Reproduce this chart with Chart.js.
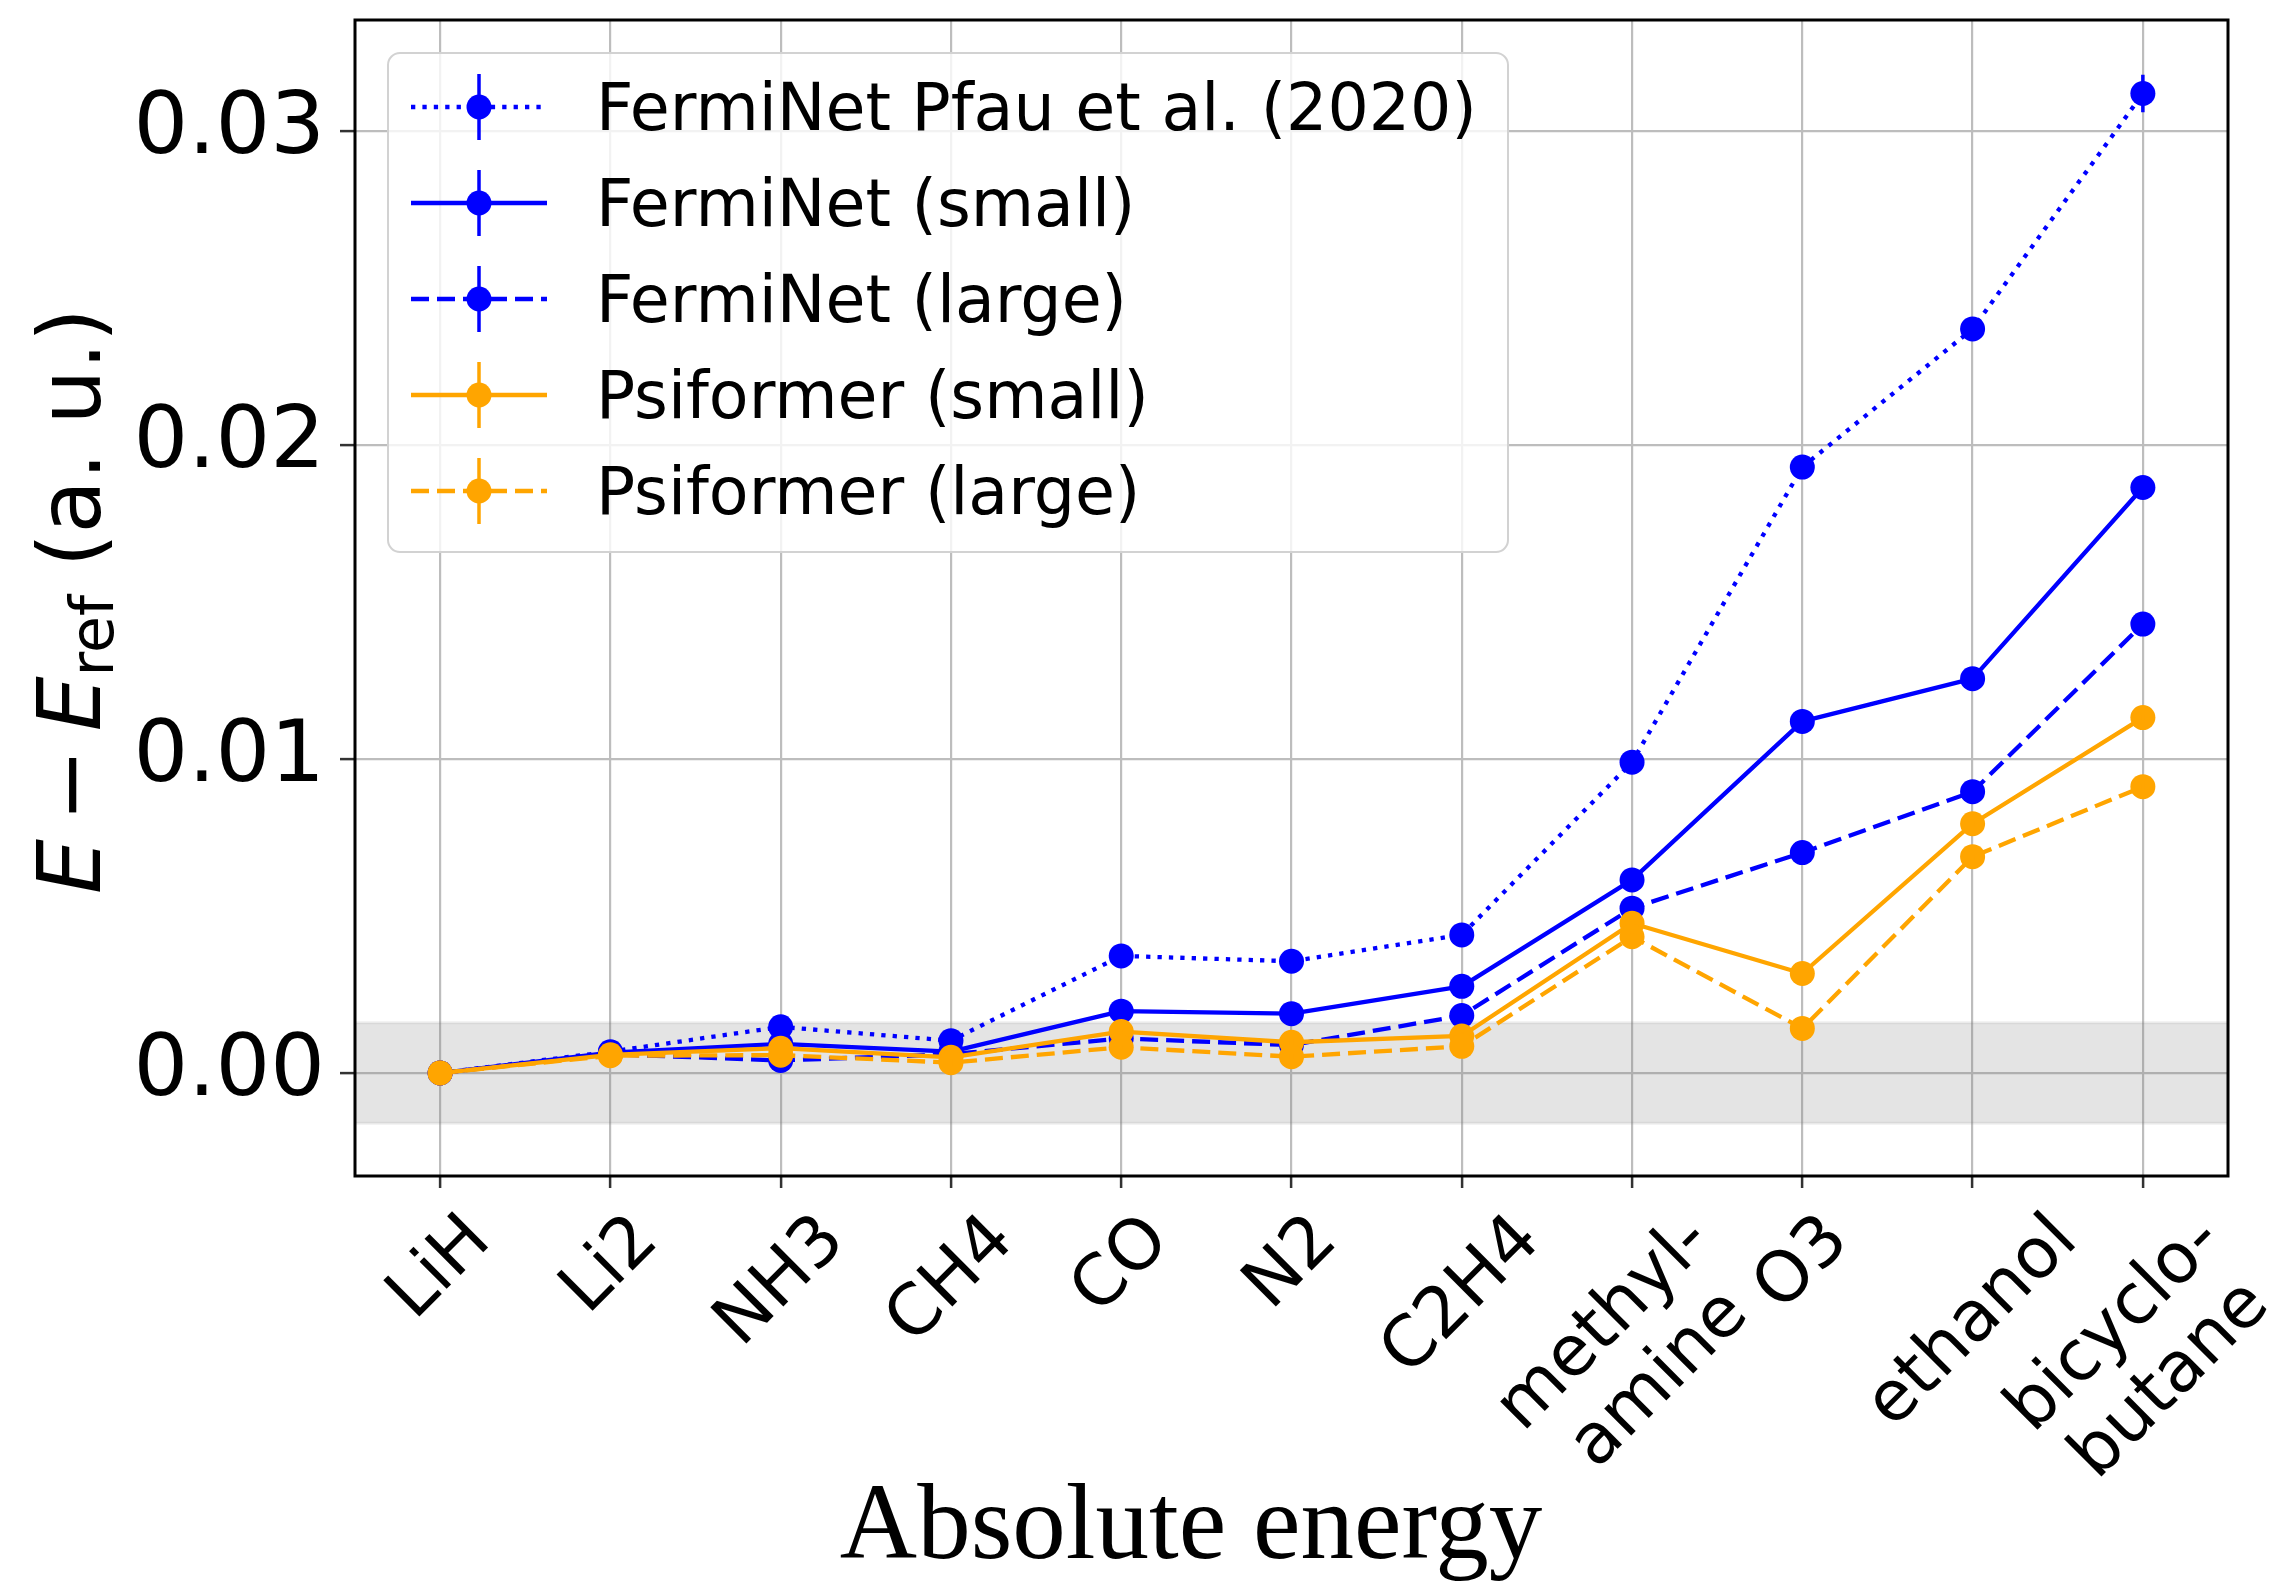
<!DOCTYPE html>
<html lang="en">
<head>
<meta charset="UTF-8">
<title>Absolute energy</title>
<script src="https://cdn.jsdelivr.net/npm/chart.js"></script>
<style>
  html, body { margin: 0; padding: 0; background: #fff; }
  #chart { display: block; }
</style>
</head>
<body>
<canvas id="chart" width="2284" height="1586"></canvas>
<script>
// molecules on the x axis (arrays = two-line labels)
const molecules = ['LiH', 'Li2', 'NH3', 'CH4', 'CO', 'N2', 'C2H4', ['methyl-', 'amine'], 'O3', 'ethanol', ['bicyclo-', 'butane']];

// E - E_ref in a.u.
const fermiNetPfau   = [0, 0.00068, 0.00147, 0.00103, 0.00373, 0.00356, 0.0044, 0.0099, 0.0193, 0.0237, 0.0312];
const fermiNetSmall  = [0, 0.00065, 0.00093, 0.00068, 0.00197, 0.00189, 0.00276, 0.00615, 0.0112, 0.01256, 0.01865];
const fermiNetLarge  = [0, 0.0006, 0.0004, 0.0006, 0.0011, 0.00089, 0.00183, 0.00525, 0.00702, 0.00896, 0.0143];
const psiformerSmall = [0, 0.00058, 0.00079, 0.0005, 0.00132, 0.00098, 0.00118, 0.00477, 0.00317, 0.00794, 0.01132];
const psiformerLarge = [0, 0.00055, 0.00057, 0.00033, 0.00082, 0.00052, 0.00085, 0.00434, 0.00142, 0.00689, 0.00912];

// error bars (mostly hidden under the markers)
const errPfau  = [0, 0.0001, 0.0001, 0.0001, 0.0001, 0.0001, 0.0001, 0.0002, 0.0002, 0.0002, 0.0006];
const errOther = [0, 0.0001, 0.0001, 0.0001, 0.0001, 0.0001, 0.0001, 0.0001, 0.0001, 0.0001, 0.0001];

const seriesNames = ['FermiNet Pfau et al. (2020)', 'FermiNet (small)', 'FermiNet (large)', 'Psiformer (small)', 'Psiformer (large)'];
const yTicks = [0, 0.01, 0.02, 0.03];
const chemAcc = 0.0016;   // shaded band +-1.6 mHa

const BLUE = '#0000ff', ORANGE = '#ffa500';
const LW = 4.3;
const DOT = [4.3, 7.1], DASH = [18, 8];

function makeSet(i, data, err, color, dash) {
    return {
        label: seriesNames[i],
        data: data,
        errors: err,
        borderColor: color,
        backgroundColor: color,
        borderWidth: LW,
        borderDash: dash,
        borderCapStyle: 'butt',
        borderJoinStyle: 'round',
        pointRadius: 12.5,
        pointHoverRadius: 12.5,
        pointBorderWidth: 0,
        pointBackgroundColor: color,
        tension: 0,
        order: 4 - i
    };
}

const bandPlugin = {
    id: 'band',
    beforeDatasetsDraw(chart) {
        const { ctx, chartArea: a, scales: { y } } = chart;
        const t = y.getPixelForValue(chemAcc), b = y.getPixelForValue(-chemAcc);
        ctx.save();
        ctx.fillStyle = 'rgba(120,120,120,0.2)';
        ctx.fillRect(a.left, t, a.right - a.left, b - t);
        ctx.strokeStyle = 'rgba(120,120,120,0.12)';
        ctx.lineWidth = 3;
        ctx.beginPath();
        ctx.moveTo(a.left, t); ctx.lineTo(a.right, t);
        ctx.moveTo(a.left, b); ctx.lineTo(a.right, b);
        ctx.stroke();
        ctx.restore();
    }
};

const errorBarPlugin = {
    id: 'errbars',
    afterDatasetDraw(chart, args) {
        const ds = chart.data.datasets[args.index];
        const y = chart.scales.y, ctx = chart.ctx;
        ctx.save();
        ctx.strokeStyle = ds.borderColor;
        ctx.lineWidth = 3.5;
        ctx.beginPath();
        args.meta.data.forEach((pt, i) => {
            const v = ds.data[i], e = ds.errors[i];
            if (!e) return;
            ctx.moveTo(pt.x, y.getPixelForValue(v + e));
            ctx.lineTo(pt.x, y.getPixelForValue(v - e));
        });
        ctx.stroke();
        ctx.restore();
    }
};

const decorPlugin = {
    id: 'decor',
    afterDatasetsDraw(chart) {
        const { ctx, chartArea: a } = chart;
        ctx.save();
        ctx.strokeStyle = '#000';
        ctx.lineWidth = 3;
        ctx.strokeRect(a.left, a.top, a.right - a.left, a.bottom - a.top);
        ctx.restore();
    },
    afterDraw(chart) {
        const { ctx, chartArea: a, scales: { x } } = chart;
        ctx.save();

        // x tick labels, rotated 45 deg, bbox centred under the tick (matplotlib style)
        const fs = 70;
        ctx.font = fs + 'px "DejaVu Sans"';
        ctx.fillStyle = '#000';
        ctx.textAlign = 'center';
        ctx.textBaseline = 'alphabetic';
        const y0 = a.bottom + 29;
        molecules.forEach((lab, i) => {
            const lines = Array.isArray(lab) ? lab : [lab];
            const W = Math.max(...lines.map(s => ctx.measureText(s).width));
            const H = fs * (0.968 + (lines.length - 1) * 1.12);
            const bb = (W + H) * Math.SQRT1_2;
            ctx.save();
            ctx.translate(x.getPixelForValue(i), y0 + bb / 2);
            ctx.rotate(-Math.PI / 4);
            lines.forEach((s, k) => ctx.fillText(s, 0, -H / 2 + fs * (0.76 + 1.12 * k)));
            ctx.restore();
        });

        // x axis title
        ctx.font = '107px "Liberation Serif"';
        ctx.fillText('Absolute energy', 1191, 1558);

        // y axis title: E − E_ref (a. u.)
        const parts = [
            { t: 'E', f: 'italic 87px "DejaVu Sans"', dy: 0 },
            { t: '\u2009\u2212\u2009', f: '87px "DejaVu Sans"', dy: 0 },
            { t: 'E', f: 'italic 87px "DejaVu Sans"', dy: 0 },
            { t: 'ref', f: '60px "DejaVu Sans"', dy: 13 },
            { t: ' (a. u.)', f: '87px "DejaVu Sans"', dy: 0 }
        ];
        let total = 0;
        parts.forEach(p => { ctx.font = p.f; p.w = ctx.measureText(p.t).width; total += p.w; });
        ctx.save();
        ctx.translate(100, 601);
        ctx.rotate(-Math.PI / 2);
        ctx.textAlign = 'left';
        let cx = -total / 2;
        parts.forEach(p => { ctx.font = p.f; ctx.fillText(p.t, cx, p.dy); cx += p.w; });
        ctx.restore();

        // legend
        const bx = 388, by = 53, bw = 1120, bh = 499;
        ctx.beginPath();
        ctx.roundRect(bx, by, bw, bh, 12);
        ctx.fillStyle = 'rgba(255,255,255,0.8)';
        ctx.fill();
        ctx.strokeStyle = '#d2d2d2';
        ctx.lineWidth = 2;
        ctx.stroke();
        ctx.font = '65px "DejaVu Sans"';
        ctx.textAlign = 'left';
        chart.data.datasets.forEach((ds, i) => {
            const ry = 107 + i * 96;
            ctx.strokeStyle = ds.borderColor;
            ctx.lineWidth = LW;
            ctx.lineCap = 'butt';
            ctx.setLineDash(ds.borderDash || []);
            ctx.beginPath(); ctx.moveTo(411, ry); ctx.lineTo(547, ry); ctx.stroke();
            ctx.setLineDash([]);
            ctx.lineWidth = 3.5;
            ctx.beginPath(); ctx.moveTo(479, ry - 33); ctx.lineTo(479, ry + 33); ctx.stroke();
            ctx.fillStyle = ds.borderColor;
            ctx.beginPath(); ctx.arc(479, ry, 12.5, 0, Math.PI * 2); ctx.fill();
            ctx.fillStyle = '#000';
            ctx.fillText(ds.label, 596, ry + 23);
        });
        ctx.restore();
    }
};

Chart.defaults.font.family = 'DejaVu Sans';

new Chart(document.getElementById('chart'), {
    type: 'line',
    data: {
        labels: molecules,
        datasets: [
            makeSet(0, fermiNetPfau, errPfau, BLUE, DOT),
            makeSet(1, fermiNetSmall, errOther, BLUE, []),
            makeSet(2, fermiNetLarge, errOther, BLUE, DASH),
            makeSet(3, psiformerSmall, errOther, ORANGE, []),
            makeSet(4, psiformerLarge, errOther, ORANGE, DASH)
        ]
    },
    options: {
        responsive: false,
        animation: false,
        devicePixelRatio: 1,
        layout: { padding: { top: 20, right: 56, left: 0, bottom: 0 } },
        plugins: { legend: { display: false }, tooltip: { enabled: false } },
        scales: {
            x: {
                type: 'category',
                offset: true,
                afterFit: s => { s.height = 410; s.paddingLeft = 0; s.paddingRight = 0; },
                ticks: { display: false },
                grid: { offset: false, color: '#bdbdbd', lineWidth: 2.2, tickLength: 12, tickColor: '#333', tickWidth: 2.5 },
                border: { display: false }
            },
            y: {
                min: -0.00328,
                max: 0.03354,
                afterBuildTicks: s => { s.ticks = yTicks.map(v => ({ value: v })); },
                afterFit: s => { s.width = 355; s.paddingTop = 0; s.paddingBottom = 0; },
                ticks: {
                    font: { family: 'DejaVu Sans', size: 86 },
                    color: '#000',
                    padding: 15,
                    callback: v => v.toFixed(2)
                },
                grid: { color: '#bdbdbd', lineWidth: 2.2, tickLength: 15, tickColor: '#333', tickWidth: 2.5 },
                border: { display: false }
            }
        }
    },
    plugins: [bandPlugin, errorBarPlugin, decorPlugin]
});
</script>
</body>
</html>
